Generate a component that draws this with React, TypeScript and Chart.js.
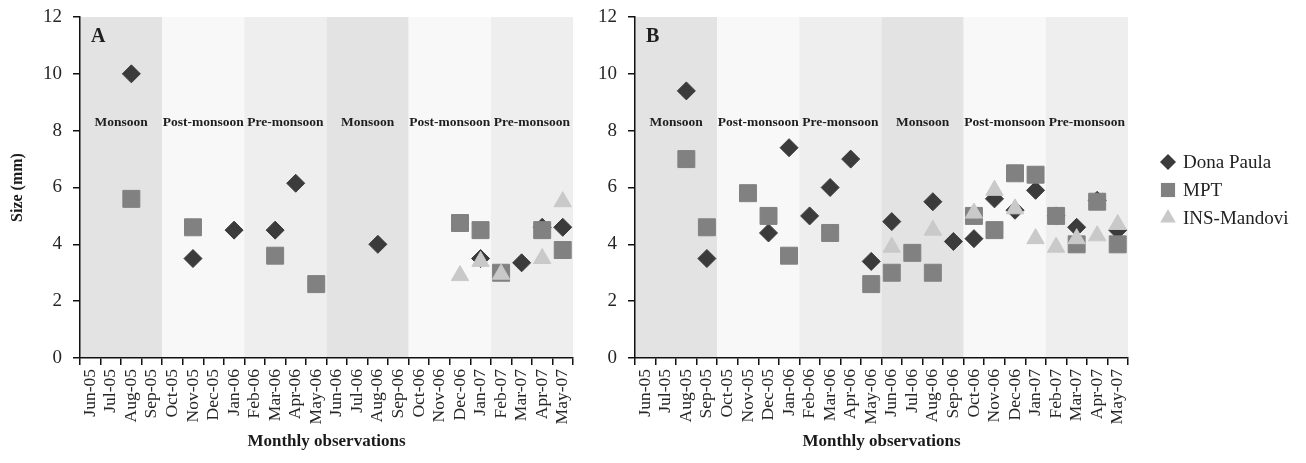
import React, { useEffect, useRef } from "react";
import { Chart, registerables } from "chart.js";

Chart.register(...registerables);

const months = [
  "Jun-05", "Jul-05", "Aug-05", "Sep-05", "Oct-05", "Nov-05", "Dec-05", "Jan-06",
  "Feb-06", "Mar-06", "Apr-06", "May-06", "Jun-06", "Jul-06", "Aug-06", "Sep-06",
  "Oct-06", "Nov-06", "Dec-06", "Jan-07", "Feb-07", "Mar-07", "Apr-07", "May-07",
];

const seriesNames = ["Dona Paula", "MPT", "INS-Mandovi"];

// Panel A
const donaPaulaA = [null, null, 10.0, null, null, 3.5, null, 4.5, null, 4.5, 6.15, null, null, null, 4.0, null, null, null, null, 3.5, null, 3.35, 4.6, 4.6];
const mptA = [null, null, 5.6, null, null, 4.6, null, null, null, 3.6, null, 2.6, null, null, null, null, null, null, 4.75, 4.5, 3.0, null, 4.5, 3.8];
const insA = [null, null, null, null, null, null, null, null, null, null, null, null, null, null, null, null, null, null, 2.9, 3.4, 2.95, null, 3.5, 5.5];

// Panel B
const donaPaulaB = [null, null, 9.4, 3.5, null, null, 4.4, 7.4, 5.0, 6.0, 7.0, 3.4, 4.8, null, 5.5, 4.1, 4.2, 5.6, 5.2, 5.9, 5.0, 4.6, 5.55, 4.5];
const mptB = [null, null, 7.0, 4.6, null, 5.8, 5.0, 3.6, null, 4.4, null, 2.6, 3.0, 3.7, 3.0, null, 5.0, 4.5, 6.5, 6.45, 5.0, 4.0, 5.5, 4.0];
const insB = [null, null, null, null, null, null, null, null, null, null, null, null, 3.9, null, 4.5, null, 5.1, 5.9, 5.25, 4.2, 3.9, 4.2, 4.3, 4.7];

const seasonNames = ["Monsoon", "Post-monsoon", "Pre-monsoon", "Monsoon", "Post-monsoon", "Pre-monsoon"];
const seasonStartIdx = [0, 4, 8, 12, 16, 20];
const seasonEndIdx = [3, 7, 11, 15, 19, 23];
const seasonFills = ["#e3e3e3", "#f8f8f8", "#eeeeee", "#e3e3e3", "#f8f8f8", "#eeeeee"];
const seasonLabelValue = 8.28;

const yTicksMin = 0;
const yTicksMax = 12;
const yTicksStep = 2;

const SERIF = "'Liberation Serif', 'Times New Roman', serif";
const colors = ["#3b3b3b", "#818181", "#c9c9c9"];
const styles = ["rectRot", "rect", "triangle"];
const radii = [9, 12, 10];

function bandsPlugin(letter: string) {
  return {
    id: "bands" + letter,
    beforeDraw(chart: any) {
      const { ctx, chartArea } = chart;
      const xs = chart.scales.x;
      const px = (i: number) => xs.getPixelForValue(i);
      ctx.save();
      for (let s = 0; s < seasonNames.length; s++) {
        const a = seasonStartIdx[s];
        const b = seasonEndIdx[s];
        const left = a === 0 ? chartArea.left : (px(a - 1) + px(a)) / 2;
        const right = b === months.length - 1 ? chartArea.right : (px(b) + px(b + 1)) / 2;
        ctx.fillStyle = seasonFills[s];
        ctx.fillRect(left, chartArea.top, right - left, chartArea.bottom - chartArea.top);
      }
      ctx.restore();
    },
    beforeDatasetsDraw(chart: any) {
      const { ctx, chartArea } = chart;
      const xs = chart.scales.x;
      const ys = chart.scales.y;
      const px = (i: number) => xs.getPixelForValue(i);
      ctx.save();
      ctx.fillStyle = "#1e1e1e";
      ctx.font = "bold 13.5px " + SERIF;
      ctx.textAlign = "center";
      ctx.textBaseline = "middle";
      for (let s = 0; s < seasonNames.length; s++) {
        const a = seasonStartIdx[s];
        const b = seasonEndIdx[s];
        const left = a === 0 ? chartArea.left : (px(a - 1) + px(a)) / 2;
        const right = b === months.length - 1 ? chartArea.right : (px(b) + px(b + 1)) / 2;
        ctx.fillText(seasonNames[s], (left + right) / 2, ys.getPixelForValue(seasonLabelValue));
      }
      ctx.font = "bold 20px " + SERIF;
      ctx.textAlign = "left";
      ctx.fillText(letter, chartArea.left + 11, chartArea.top + 20);
      ctx.restore();
    },
  };
}

function drawMarker(ctx: CanvasRenderingContext2D, style: string, x: number, y: number, r: number) {
  ctx.beginPath();
  if (style === "rectRot") {
    ctx.moveTo(x, y - r);
    ctx.lineTo(x + r, y);
    ctx.lineTo(x, y + r);
    ctx.lineTo(x - r, y);
  } else if (style === "rect") {
    const h = r * Math.SQRT1_2;
    ctx.rect(x - h, y - h, 2 * h, 2 * h);
  } else {
    const h = r;
    ctx.moveTo(x, y - h);
    ctx.lineTo(x + h * 0.866, y + h * 0.5);
    ctx.lineTo(x - h * 0.866, y + h * 0.5);
  }
  ctx.closePath();
  ctx.fill();
}

const legendPlugin = {
  id: "customLegend",
  afterDraw(chart: any) {
    const { ctx, chartArea } = chart;
    ctx.save();
    const x0 = chartArea.right + 40;
    const y0 = 162;
    const gap = 28;
    ctx.font = "19px " + SERIF;
    ctx.textBaseline = "middle";
    ctx.textAlign = "left";
    for (let i = 0; i < seriesNames.length; i++) {
      const y = y0 + i * gap;
      ctx.fillStyle = colors[i];
      drawMarker(ctx, styles[i], x0, y, [8, 10, 9][i]);
      ctx.fillStyle = "#222";
      ctx.fillText(seriesNames[i], x0 + 15, y + 1);
    }
    ctx.restore();
  },
};

function makeConfig(data: (number | null)[][], letter: string, withYTitle: boolean, yWidth: number, rightPad: number, withLegend: boolean) {
  const datasets = data.map((d, i) => ({
    label: seriesNames[i],
    data: d,
    showLine: false,
    pointStyle: styles[i],
    pointRadius: radii[i],
    pointBackgroundColor: colors[i],
    pointBorderColor: colors[i],
    pointBorderWidth: 1,
    borderColor: colors[i],
    backgroundColor: colors[i],
    order: 3 - i,
  }));
  const plugins: any[] = [bandsPlugin(letter)];
  if (withLegend) plugins.push(legendPlugin);
  return {
    type: "line",
    data: { labels: months, datasets },
    plugins,
    options: {
      animation: false,
      responsive: false,
      events: [],
      layout: { padding: { left: 0, right: rightPad, top: 17, bottom: 0 } },
      plugins: { legend: { display: false }, tooltip: { enabled: false } },
      scales: {
        x: {
          type: "category",
          offset: true,
          afterFit(scale: any) {
            scale.height = 105;
            scale.paddingLeft = 0;
            scale.paddingRight = 0;
          },
          grid: { display: true, offset: true, drawOnChartArea: false, drawTicks: true, tickLength: 7, color: "#111", lineWidth: 1.5 },
          border: { display: true, color: "#111", width: 1.5 },
          ticks: {
            autoSkip: false,
            maxRotation: 90,
            minRotation: 90,
            padding: 4,
            color: "#262626",
            font: { family: SERIF, size: 17.5 },
          },
          title: {
            display: true,
            text: "Monthly observations",
            color: "#1a1a1a",
            font: { family: SERIF, size: 17, weight: "bold" },
            padding: { top: 0, bottom: 11 },
          },
        },
        y: {
          min: yTicksMin,
          max: yTicksMax,
          afterFit(scale: any) {
            scale.width = yWidth;
            scale.paddingTop = 0;
            scale.paddingBottom = 0;
          },
          grid: { display: true, drawOnChartArea: false, drawTicks: true, tickLength: 7, color: "#111", lineWidth: 1.5 },
          border: { display: true, color: "#111", width: 1.5 },
          ticks: {
            stepSize: yTicksStep,
            padding: 11,
            color: "#262626",
            font: { family: SERIF, size: 19 },
          },
          title: {
            display: withYTitle,
            text: "Size (mm)",
            color: "#1a1a1a",
            font: { family: SERIF, size: 16, weight: "bold" },
            padding: { top: 8, bottom: 0 },
          },
        },
      },
    },
  };
}

export default function App() {
  const refA = useRef<HTMLCanvasElement | null>(null);
  const refB = useRef<HTMLCanvasElement | null>(null);

  useEffect(() => {
    document.body.style.margin = "0";
    const a = new Chart(refA.current as HTMLCanvasElement, makeConfig([donaPaulaA, mptA, insA], "A", true, 80, 19, false) as any);
    const b = new Chart(refB.current as HTMLCanvasElement, makeConfig([donaPaulaB, mptB, insB], "B", false, 43, 178, true) as any);
    return () => {
      a.destroy();
      b.destroy();
    };
  }, []);

  return (
    <div style={{ position: "relative", width: 1306, height: 463, background: "#fff" }}>
      <canvas ref={refA} width={592} height={463} style={{ position: "absolute", left: 0, top: 0, display: "block" }} />
      <canvas ref={refB} width={714} height={463} style={{ position: "absolute", left: 592, top: 0, display: "block" }} />
    </div>
  );
}
